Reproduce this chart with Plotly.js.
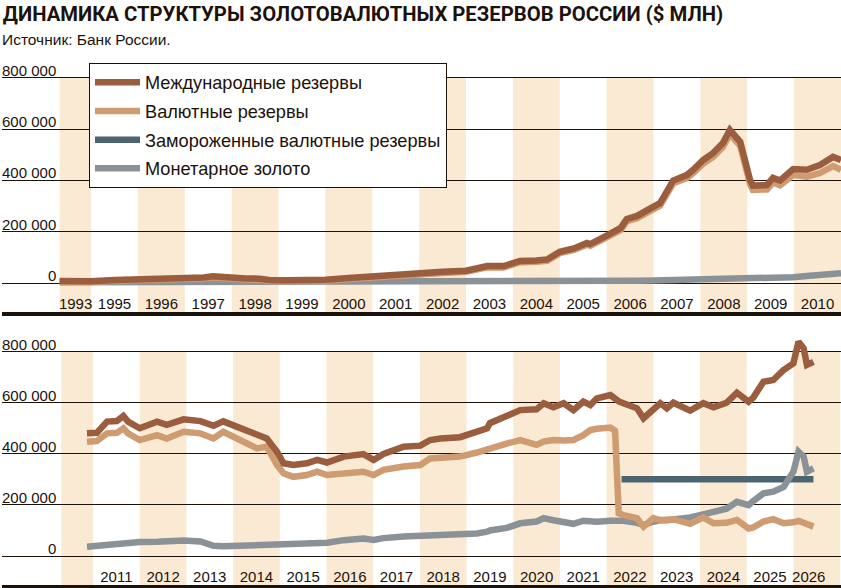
<!DOCTYPE html>
<html>
<head>
<meta charset="utf-8">
<script src="https://cdn.plot.ly/plotly-3.0.1.min.js"></script>
<style>
  html, body { margin: 0; padding: 0; background: #fff; }
  #chart { width: 841px; height: 588px; }
</style>
</head>
<body>
<div id="chart"></div>
<script>
// Данные: $ млн, по оси X — год (дробный)
var topX = [1994.33, 1994.75, 1995.0, 1995.5, 1996.0, 1996.5, 1997.0, 1997.4, 1997.6, 1997.9,
  1998.3, 1998.6, 1998.8, 1999.2, 1999.6, 2000.0, 2000.5, 2001.0, 2001.5, 2002.0,
  2002.5, 2003.0, 2003.45, 2003.8, 2004.15, 2004.5, 2004.73, 2005.0, 2005.3, 2005.58,
  2005.65, 2006.0, 2006.3, 2006.43, 2006.65, 2007.0, 2007.14, 2007.42, 2007.71, 2007.84,
  2008.06, 2008.27, 2008.48, 2008.63, 2008.85, 2009.06, 2009.12, 2009.42, 2009.55, 2009.7,
  2009.98, 2010.27, 2010.55, 2010.83, 2011.0];
var topIntl = [8000, 6000, 7000, 12000, 15000, 16000, 16000, 22000, 26000, 20000,
  18000, 17000, 12000, 11000, 11000, 13000, 20000, 27000, 35000, 38000,
  44000, 48000, 66000, 66000, 86000, 88000, 92000, 122000, 135000, 156000,
  152000, 185000, 215000, 250000, 262000, 298000, 312000, 400000, 421000, 441000,
  480000, 507000, 546000, 597000, 551000, 402000, 380000, 382000, 410000, 400000,
  445000, 442000, 460000, 492000, 480000];
var topFx = [5000, 3000, 4000, 9000, 11500, 12500, 12000, 18000, 22000, 16000,
  13500, 12500, 7500, 7000, 7000, 9000, 16000, 23000, 31000, 34000,
  39500, 43500, 61500, 61000, 81000, 83000, 86500, 116500, 129000, 149500,
  145500, 178000, 207000, 241500, 253000, 288500, 302000, 389000, 409000, 428000,
  466000, 492000, 530500, 581000, 535000, 386000, 363500, 365000, 392000, 381000,
  422000, 415000, 429000, 456000, 442000];
var topGold = [3000, 3000, 3000, 3000, 3500, 3500, 4000, 4000, 4000, 4000,
  4500, 4500, 4500, 4000, 4000, 4000, 4000, 4000, 4000, 4000,
  4500, 4500, 4500, 5000, 5000, 5000, 5500, 5500, 6000, 6500,
  6500, 7000, 8000, 8500, 9000, 9500, 10000, 11000, 12000, 13000,
  14000, 15000, 15500, 16000, 16000, 16000, 16500, 17000, 18000, 19000,
  23000, 27000, 31000, 36000, 38000];

var botX = [2010.87, 2011.08, 2011.3, 2011.51, 2011.65, 2011.75, 2012.0, 2012.37, 2012.58, 2012.94,
  2013.3, 2013.58, 2013.79, 2014.15, 2014.51, 2014.72, 2014.94, 2015.08, 2015.29, 2015.58,
  2015.8, 2016.01, 2016.37, 2016.79, 2017.01, 2017.22, 2017.65, 2018.01, 2018.22, 2018.44,
  2018.86, 2019.22, 2019.44, 2019.5, 2019.86, 2020.15, 2020.5, 2020.65, 2020.86, 2021.08,
  2021.29, 2021.5, 2021.65, 2021.79, 2022.08, 2022.18, 2022.26, 2022.36, 2022.65, 2022.79,
  2023.0, 2023.15, 2023.29, 2023.43, 2023.79, 2024.07, 2024.29, 2024.57, 2024.79, 2025.04,
  2025.14, 2025.36, 2025.57, 2025.79, 2026.0, 2026.11, 2026.22, 2026.29, 2026.43];
var botIntl = [480000, 482000, 526000, 528000, 548000, 526000, 500000, 526000, 513000, 535000,
  528000, 510000, 527000, 500000, 473000, 460000, 408000, 363000, 356000, 363000,
  376000, 366000, 389000, 399000, 376000, 399000, 428000, 432000, 454000, 460000,
  465000, 486000, 500000, 520000, 545000, 571000, 574000, 598000, 582000, 598000,
  571000, 604000, 591000, 617000, 630000, 615000, 605000, 598000, 578000, 539000,
  571000, 598000, 578000, 600000, 569000, 598000, 582000, 600000, 639000, 604000,
  620000, 682000, 689000, 728000, 754000, 839000, 813000, 748000, 760000];
var botFx = [447000, 450000, 480000, 482000, 500000, 480000, 454000, 473000, 460000, 486000,
  480000, 460000, 486000, 454000, 421000, 428000, 356000, 324000, 310000, 317000,
  330000, 317000, 324000, 330000, 317000, 337000, 350000, 356000, 382000, 384000,
  389000, 405000, 415000, 420000, 440000, 454000, 435000, 448000, 454000, 452000,
  454000, 473000, 493000, 498000, 503000, 490000, 167000, 160000, 148000, 115000,
  148000, 140000, 144000, 144000, 126000, 151000, 128000, 130000, 141000, 108000,
  112000, 135000, 144000, 128000, 132000, 137000, 130000, 125000, 115000];
var botGold = [36000, 40000, 46000, 50000, 52000, 50000, 55000, 56000, 58000, 61000,
  57000, 40000, 38000, 40000, 43000, 44000, 45000, 46000, 47000, 48000,
  50000, 52000, 62000, 68000, 63000, 70000, 76000, 78000, 79000, 79000,
  80000, 88000, 95000, 100000, 110000, 128000, 135000, 148000, 140000, 135000,
  126000, 138000, 135000, 134000, 138000, 140000, 141000, 138000, 130000, 122000,
  134000, 141000, 140000, 143000, 151000, 163000, 175000, 185000, 212000, 199000,
  215000, 245000, 252000, 270000, 330000, 408000, 389000, 330000, 343000];

var frozenX = [2022.32, 2026.43];
var frozenY = [300000, 300000];

var topTickLabels = ['1993', '1995', '1996', '1997', '1998', '1999', '2000', '2001', '2002',
  '2003', '2004', '2005', '2006', '2007', '2008', '2009', '2010'];
var botTickLabels = ['2011', '2012', '2013', '2014', '2015', '2016', '2017', '2018',
  '2019', '2020', '2021', '2022', '2023', '2024', '2025', '2026'];
var yTicks = [0, 200000, 400000, 600000, 800000];
var yTickLabels = ['0', '200 000', '400 000', '600 000', '800 000'];

var topShaded = [1994, 1996, 1998, 2000, 2002, 2004, 2006, 2008, 2010];
var botShaded = [2010, 2012, 2014, 2016, 2018, 2020, 2022, 2024, 2026];

var names = ['Международные резервы', 'Валютные резервы', 'Замороженные валютные резервы', 'Монетарное золото'];
var colors = ['#9a5d3d', '#cf9b70', '#4b6470', '#8a9298'];

var tickFont = '"Liberation Sans", Arial, sans-serif';
var ink = '#1c120c';
var lw = 6.5;

function line(x, y, i, xa, ya, show) {
  return {
    x: x, y: y, xaxis: xa, yaxis: ya, type: 'scatter', mode: 'lines',
    name: names[i], legendgroup: 'g' + i, legendrank: i + 1, showlegend: show,
    line: { color: colors[i], width: lw }, hoverinfo: 'skip'
  };
}

var data = [
  line(frozenX, frozenY, 2, 'x2', 'y2', true),
  line(topX, topGold, 3, 'x', 'y', false),
  line(botX, botGold, 3, 'x2', 'y2', true),
  line(topX, topFx, 1, 'x', 'y', false),
  line(botX, botFx, 1, 'x2', 'y2', true),
  line(topX, topIntl, 0, 'x', 'y', false),
  line(botX, botIntl, 0, 'x2', 'y2', true)
];

var shapes = [];
topShaded.forEach(function (yr) {
  shapes.push({ type: 'rect', xref: 'x', yref: 'y', x0: Math.max(yr, 1994.33), x1: yr + 1,
    y0: -200000, y1: 800000, fillcolor: '#fbead3', line: { width: 0 }, layer: 'below' });
});
botShaded.forEach(function (yr) {
  shapes.push({ type: 'rect', xref: 'x2', yref: 'y2', x0: Math.max(yr, 2010.32), x1: yr + 1,
    y0: -200000, y1: 800000, fillcolor: '#fbead3', line: { width: 0 }, layer: 'below' });
});

var annotations = [{
  xref: 'paper', yref: 'paper', x: 0, y: 0.95, xanchor: 'left', yanchor: 'top', xshift: -2,
  text: 'Источник: Банк России.', showarrow: false,
  font: { family: tickFont, size: 15.5, color: ink }
}];
['y', 'y2'].forEach(function (ya) {
  yTicks.forEach(function (v, k) {
    annotations.push({
      xref: 'paper', yref: ya, x: 56 / 839, y: v, xanchor: 'right', yanchor: 'bottom',
      yshift: -3, text: yTickLabels[k], showarrow: false,
      font: { family: tickFont, size: 15, color: ink }
    });
  });
});

var topTickVals = [1994.67, 1995.5];
for (var t = 1996; t <= 2010; t++) topTickVals.push(t + 0.5);
var botTickVals = [];
for (var b = 2011; b <= 2025; b++) botTickVals.push(b + 0.5);
botTickVals.push(2026.33);

var xCommon = {
  showgrid: false, zeroline: false, showline: true, linewidth: 4, linecolor: ink,
  ticks: '', ticklabelposition: 'inside', tickmode: 'array', tickangle: 0,
  tickfont: { family: tickFont, size: 15, color: ink }, fixedrange: true
};
var yCommon = {
  tickmode: 'array', tickvals: yTicks, showticklabels: false, showgrid: true,
  gridcolor: ink, gridwidth: 1, zeroline: false, showline: false, ticks: '', fixedrange: true
};

var layout = {
  width: 841, height: 588,
  margin: { l: 2, r: 0, t: 0, b: 0 },
  paper_bgcolor: '#fff', plot_bgcolor: 'rgba(0,0,0,0)',
  title: {
    text: 'ДИНАМИКА СТРУКТУРЫ ЗОЛОТОВАЛЮТНЫХ РЕЗЕРВОВ РОССИИ ($ МЛН)',
    font: { family: 'Roboto, "Liberation Sans", sans-serif', size: 20.3, weight: 700, color: ink },
    xref: 'paper', x: 0.001, xanchor: 'left', yref: 'container', y: 0.988, yanchor: 'top'
  },
  xaxis: Object.assign({}, xCommon, { domain: [0, 1], range: [1993.1, 2011.0], anchor: 'y',
    tickvals: topTickVals, ticktext: topTickLabels }),
  yaxis: Object.assign({}, yCommon, { domain: [276 / 588, 518 / 588], range: [-113000, 831000], anchor: 'x' }),
  xaxis2: Object.assign({}, xCommon, { domain: [0, 1], range: [2009.05, 2027.02], anchor: 'y2',
    tickvals: botTickVals, ticktext: botTickLabels }),
  yaxis2: Object.assign({}, yCommon, { domain: [3 / 588, 253 / 588], range: [-113500, 865000], anchor: 'x2' }),
  showlegend: true,
  legend: {
    x: 87 / 839, y: 525 / 588, xanchor: 'left', yanchor: 'top',
    bgcolor: '#fff', bordercolor: ink, borderwidth: 1,
    font: { family: tickFont, size: 18.2, color: ink },
    itemwidth: 45, tracegroupgap: 2, itemclick: false, itemdoubleclick: false
  },
  shapes: shapes,
  annotations: annotations
};

Plotly.newPlot('chart', data, layout, { displayModeBar: false, staticPlot: true });
</script>
</body>
</html>
